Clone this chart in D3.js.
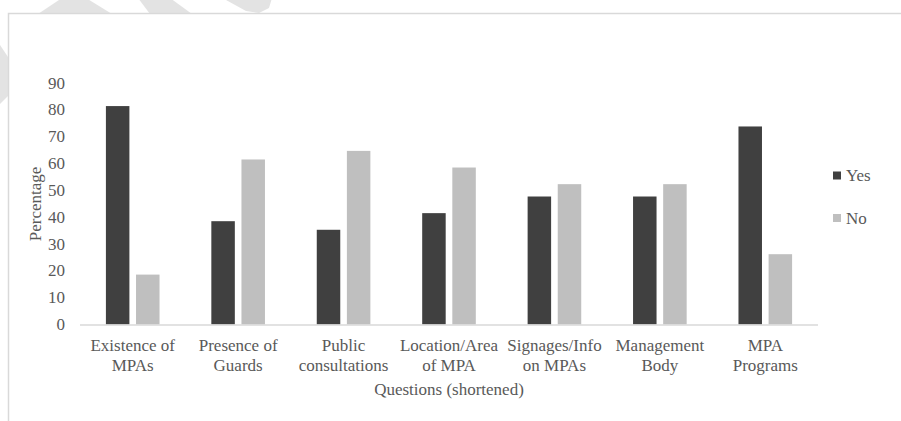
<!DOCTYPE html>
<html>
<head>
<meta charset="utf-8">
<script src="https://cdn.jsdelivr.net/npm/d3@7"></script>
<style>
  html, body { margin: 0; padding: 0; background: #fff; }
  svg { display: block; }
</style>
</head>
<body>
<svg id="chart" width="901" height="421"></svg>
<script>
// Survey answers per question (percent of respondents)
const categories = [
  ["Existence of", "MPAs"],
  ["Presence of", "Guards"],
  ["Public", "consultations"],
  ["Location/Area", "of MPA"],
  ["Signages/Info", "on MPAs"],
  ["Management", "Body"],
  ["MPA", "Programs"]
];
const seriesNames = ["Yes", "No"];
const yesValues = [81.4, 38.5, 35.3, 41.5, 47.7, 47.7, 73.8];
const noValues  = [18.6, 61.5, 64.7, 58.5, 52.3, 52.3, 26.2];
const yTicks = [0, 10, 20, 30, 40, 50, 60, 70, 80, 90];
const xTitle = "Questions (shortened)";
const yTitle = "Percentage";

const colors = { Yes: "#404040", No: "#bfbfbf" };
const FONT = "'Liberation Serif', 'Times New Roman', Times, 'DejaVu Serif', serif";
const svg = d3.select("#chart")
  .attr("font-family", FONT)
  .style("font-family", FONT);

// faint background marks behind the chart frame
const bgMarks = [
  [[38, 14], [62, -2], [86, -2], [112, 14]],
  [[138, -2], [170, -2], [192, 14], [150, 14]],
  [[203, -2], [272, -2], [269, 8], [259, 13], [246, 11], [226, 0]],
  [[-2, 42], [10, 60], [10, 94], [-2, 106]]
];
svg.append("g").selectAll("path").data(bgMarks).join("path")
  .attr("d", d => d3.line()(d) + "Z")
  .attr("fill", "#e3e3e3");

// chart frame
svg.append("rect")
  .attr("x", 8.5).attr("y", 13.5)
  .attr("width", 920).attr("height", 430)
  .attr("fill", "#fff")
  .attr("stroke", "#d9d9d9").attr("stroke-width", 1.5);

const x0 = d3.scaleBand()
  .domain(d3.range(categories.length))
  .range([80, 818]);
const x1 = d3.scaleBand()
  .domain(seriesNames)
  .range([0, x0.bandwidth()])
  .paddingInner(0.22)
  .paddingOuter(0.86);
const y = d3.scaleLinear().domain([0, 90]).range([324.5, 83]);

const txt = sel => sel.attr("fill", "#595959").attr("font-size", 17)
  .style("font-family", FONT);

// y tick labels
svg.append("g").selectAll("text").data(yTicks).join("text")
  .call(txt)
  .attr("x", 65).attr("y", d => y(d))
  .attr("text-anchor", "end")
  .attr("dominant-baseline", "central")
  .text(d => d);

// bars
const rows = categories.map((c, i) => [
  { i, s: "Yes", v: yesValues[i] },
  { i, s: "No", v: noValues[i] }
]).flat();
svg.append("g").selectAll("rect").data(rows).join("rect")
  .attr("x", d => x0(d.i) + x1(d.s))
  .attr("width", x1.bandwidth())
  .attr("y", d => y(d.v))
  .attr("height", d => y(0) - y(d.v))
  .attr("fill", d => colors[d.s]);

// baseline
svg.append("line")
  .attr("x1", x0.range()[0]).attr("x2", x0.range()[1])
  .attr("y1", y(0) + 0.5).attr("y2", y(0) + 0.5)
  .attr("stroke", "#d9d9d9").attr("stroke-width", 1.5);

// category labels
const catG = svg.append("g").selectAll("text").data(categories).join("text")
  .call(txt)
  .attr("text-anchor", "middle");
catG.selectAll("tspan").data((d, i) => d.map(t => ({ t, i }))).join("tspan")
  .attr("x", d => x0(d.i) + x0.bandwidth() / 2)
  .attr("y", (d, j) => 350.5 + j * 20.3)
  .text(d => d.t);

// axis titles
svg.append("text").call(txt)
  .attr("x", 449).attr("y", 395)
  .attr("text-anchor", "middle")
  .text(xTitle);
svg.append("text").call(txt)
  .attr("transform", "translate(35,204) rotate(-90)")
  .attr("text-anchor", "middle").attr("dominant-baseline", "central")
  .text(yTitle);

// legend
const leg = svg.append("g").selectAll("g").data(seriesNames).join("g")
  .attr("transform", (d, i) => `translate(833,${175.5 + i * 42.5})`);
leg.append("rect")
  .attr("x", 0).attr("y", -4).attr("width", 8).attr("height", 8)
  .attr("fill", d => colors[d]);
leg.append("text").call(txt)
  .attr("x", 13).attr("y", 0)
  .attr("dominant-baseline", "central")
  .text(d => d);
</script>
</body>
</html>
